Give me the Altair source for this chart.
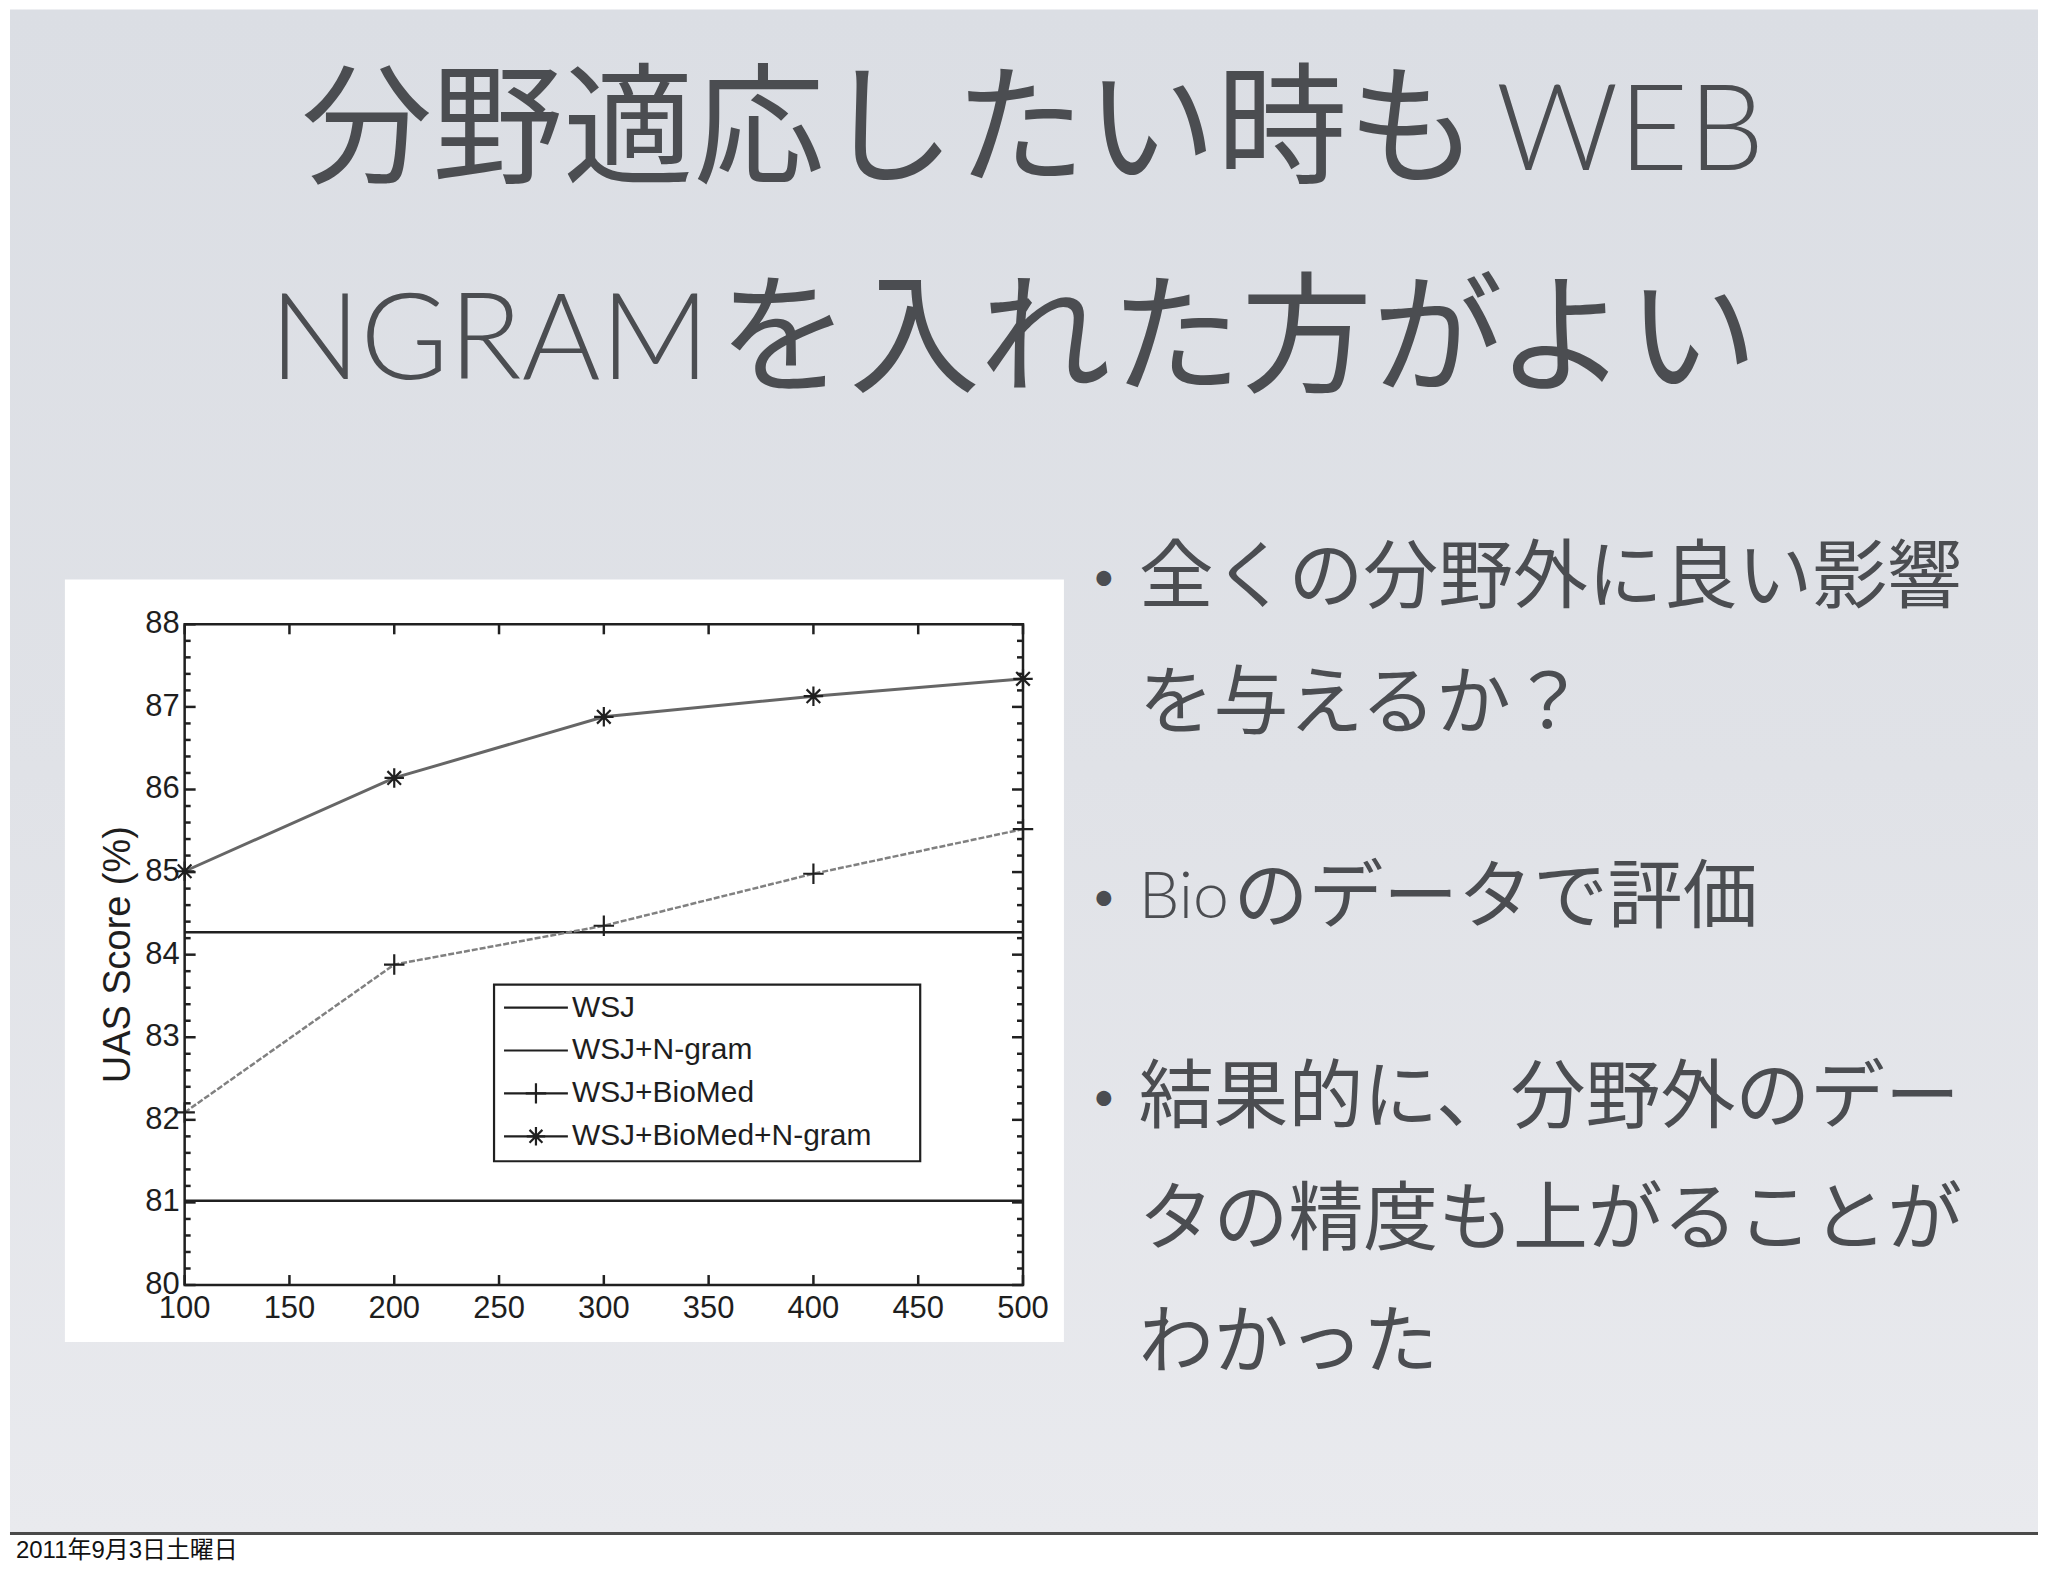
import altair as alt
import numpy as np
import pandas as pd

# ---------------- data ----------------
x_vals = [100, 200, 300, 400, 500]
wsj = [81.02, 81.02, 81.02, 81.02, 81.02]
wsj_ngram = [84.27, 84.27, 84.27, 84.27, 84.27]
wsj_biomed = [82.09, 83.88, 84.35, 84.98, 85.52]
wsj_biomed_ngram = [85.01, 86.14, 86.88, 87.13, 87.34]
series_names = ["WSJ", "WSJ+N-gram", "WSJ+BioMed", "WSJ+BioMed+N-gram"]

x_ticks = [100, 150, 200, 250, 300, 350, 400, 450, 500]
y_ticks = [80, 81, 82, 83, 84, 85, 86, 87, 88]
y_minor = [round(v, 1) for v in np.arange(80.2, 88.0, 0.2) if abs(v - round(v)) > 1e-6]

y_title = "UAS Score (%)"
# title lines, split into (text, is_latin) runs
title_runs = [
    [("分野適応したい時も", False), ("WEB", True)],
    [("NGRAM", True), ("を入れた方がよい", False)],
]
bullet_runs = [
    ("•", [("全くの分野外に良い影響", False)]),
    ("", [("を与えるか？", False)]),
    ("•", [("Bio", True), ("のデータで評価", False)]),
    ("•", [("結果的に、分野外のデー", False)]),
    ("", [("タの精度も上がることが", False)]),
    ("", [("わかった", False)]),
]
date_text = "2011年9月3日土曜日"

# ---------------- layout ----------------
W, H = 840, 662           # plot area
PX0, PY0 = 183, 624       # page position of plot origin


def px(x):
    return x - PX0


def py(y):
    return y - PY0


# left x (page px) of each run, and line centres
title_run_x = [[300, 1497], [268, 718]]
title_y = [133, 342]
bullet_run_x = [[1139], [1139], [1139, 1234], [1139], [1139], [1139]]
bullet_y = [579, 705, 899, 1100, 1222, 1345]

xs = alt.Scale(domain=[100, 500], nice=False, zero=False)
ys = alt.Scale(domain=[80, 88], nice=False, zero=False)

INK = "#1e1e1e"
SLIDE_TXT = "#4b4d51"
CJK_FONT = "'Noto Sans CJK JP'"
LATIN_FONT = "Lato"
PLOT_FONT = "'Liberation Sans', Arial, sans-serif"

one = alt.Data(values=[{}])

layers = []

# slide background
layers.append(
    alt.Chart(one).mark_rect(
        fill={
            "gradient": "linear",
            "x1": 0, "y1": 0, "x2": 0, "y2": 1,
            "stops": [
                {"offset": 0, "color": "#dbdee4"},
                {"offset": 0.5, "color": "#e0e2e7"},
                {"offset": 1, "color": "#e9eaee"},
            ],
        }
    ).encode(x=alt.value(px(8)), x2=alt.value(px(2040)), y=alt.value(py(8)), y2=alt.value(py(1536)))
)
# slide bottom edge
layers.append(
    alt.Chart(one).mark_rule(color="#4a4a4a", strokeWidth=3).encode(
        x=alt.value(px(8)), x2=alt.value(px(2040)), y=alt.value(py(1535))
    )
)
# white figure panel
layers.append(
    alt.Chart(one).mark_rect(fill="#ffffff").encode(
        x=alt.value(px(63)), x2=alt.value(px(1064)), y=alt.value(py(579)), y2=alt.value(py(1343))
    )
)


def series_layer(vals, color, width, dash=None):
    d = pd.DataFrame({"x": x_vals, "y": vals})
    kw = dict(color=color, strokeWidth=width)
    if dash:
        kw["strokeDash"] = dash
    return alt.Chart(d).mark_line(**kw).encode(
        x=alt.X("x:Q", scale=xs, axis=None),
        y=alt.Y("y:Q", scale=ys, axis=None),
    )


layers.append(series_layer(wsj, "#202020", 2.5))
layers.append(series_layer(wsj_ngram, "#202020", 2.5))
layers.append(series_layer(wsj_biomed, "#808080", 2.5, dash=[6, 2]))
layers.append(series_layer(wsj_biomed_ngram, "#666666", 3))

PLUS = "M-1,0L1,0M0,-1L0,1"
STAR = "M-1,0L1,0M0,-1L0,1M-0.7,-0.7L0.7,0.7M-0.7,0.7L0.7,-0.7"


def marker_layer(vals, shape, size):
    d = pd.DataFrame({"x": x_vals, "y": vals})
    return alt.Chart(d).mark_point(shape=shape, size=size, filled=False, stroke="#202020",
                                   strokeWidth=2.2, opacity=1).encode(
        x=alt.X("x:Q", scale=xs, axis=None),
        y=alt.Y("y:Q", scale=ys, axis=None),
    )


layers.append(marker_layer(wsj_biomed, PLUS, 420))
layers.append(marker_layer(wsj_biomed_ngram, STAR, 380))

# plot frame
layers.append(
    alt.Chart(one).mark_rect(fillOpacity=0, stroke="#202020", strokeWidth=2.5).encode(
        x=alt.value(0), x2=alt.value(W), y=alt.value(0), y2=alt.value(H)
    )
)

# inward ticks on all four sides
xt = pd.DataFrame({"v": x_ticks})
for y0, y1 in [(H, H - 10), (0, 10)]:
    layers.append(
        alt.Chart(xt).mark_rule(color="#202020", strokeWidth=2.5).encode(
            x=alt.X("v:Q", scale=xs, axis=None), y=alt.value(y0), y2=alt.value(y1)
        )
    )
for vals, ln in [(y_ticks, 11), (y_minor, 6)]:
    yt = pd.DataFrame({"v": vals})
    for x0, x1 in [(0, ln), (W - ln, W)]:
        layers.append(
            alt.Chart(yt).mark_rule(color="#202020", strokeWidth=2.5).encode(
                y=alt.Y("v:Q", scale=ys, axis=None), x=alt.value(x0), x2=alt.value(x1)
            )
        )

# tick labels
layers.append(
    alt.Chart(xt).mark_text(fontSize=31, font=PLOT_FONT, color=INK, align="center",
                            baseline="top").encode(
        x=alt.X("v:Q", scale=xs, axis=None), y=alt.value(H + 9), text=alt.Text("v:Q", format="d")
    )
)
layers.append(
    alt.Chart(pd.DataFrame({"v": y_ticks})).mark_text(fontSize=31, font=PLOT_FONT, color=INK,
                                                      align="right", baseline="middle").encode(
        y=alt.Y("v:Q", scale=ys, axis=None), x=alt.value(-5), text=alt.Text("v:Q", format="d")
    )
)

# y-axis title
layers.append(
    alt.Chart(one).mark_text(text=y_title, angle=270, fontSize=38, font=PLOT_FONT, color=INK,
                             align="center", baseline="middle").encode(
        x=alt.value(px(117)), y=alt.value(H / 2)
    )
)

# legend
LEG_L, LEG_R, LEG_T, LEG_B = px(493), px(920), py(985), py(1162)
leg_y0, leg_dy = py(1008), 43
legend_df = pd.DataFrame({"name": series_names,
                          "ly": [leg_y0 + i * leg_dy for i in range(len(series_names))]})
layers.append(
    alt.Chart(one).mark_rect(fill="#ffffff", stroke="#202020", strokeWidth=2.2).encode(
        x=alt.value(LEG_L), x2=alt.value(LEG_R), y=alt.value(LEG_T), y2=alt.value(LEG_B)
    )
)
layers.append(
    alt.Chart(legend_df).mark_rule(color="#202020", strokeWidth=2.2).encode(
        x=alt.value(px(503)), x2=alt.value(px(567)), y=alt.Y("ly:Q", scale=None, axis=None)
    )
)
layers.append(
    alt.Chart(legend_df).mark_text(align="left", baseline="middle", fontSize=30, font=PLOT_FONT,
                                   color=INK).encode(
        x=alt.value(px(571)), y=alt.Y("ly:Q", scale=None, axis=None), text="name:N"
    )
)
for i, shape, size in [(2, PLUS, 420), (3, STAR, 340)]:
    layers.append(
        alt.Chart(one).mark_point(shape=shape, size=size, filled=False, stroke="#202020",
                                  strokeWidth=2.2, opacity=1).encode(
            x=alt.value(px(535)), y=alt.value(leg_y0 + i * leg_dy)
        )
    )


def run_layer(text, is_latin, x, y, size, latin_scale):
    return alt.Chart(one).mark_text(
        text=text,
        fontSize=size * (latin_scale if is_latin else 1.0),
        font=LATIN_FONT if is_latin else CJK_FONT,
        fontWeight=300 if is_latin else 400,
        color=SLIDE_TXT, align="left", baseline="middle",
    ).encode(x=alt.value(px(x)), y=alt.value(py(y)))


# slide title
for runs, xs_run, yc in zip(title_runs, title_run_x, title_y):
    for (text, is_latin), x in zip(runs, xs_run):
        layers.append(run_layer(text, is_latin, x, yc, 131, 0.92))

# bullets
for (dot, runs), xs_run, yc in zip(bullet_runs, bullet_run_x, bullet_y):
    if dot:
        layers.append(
            alt.Chart(one).mark_text(text=dot, fontSize=40, font=LATIN_FONT, color=SLIDE_TXT,
                                     align="center", baseline="middle").encode(
                x=alt.value(px(1104)), y=alt.value(py(yc))
            )
        )
    for (text, is_latin), x in zip(runs, xs_run):
        layers.append(run_layer(text, is_latin, x, yc, 75, 0.86))

# date footer
layers.append(
    alt.Chart(one).mark_text(text=date_text, fontSize=24,
                             font="'Liberation Sans', 'Noto Sans CJK JP'", color="#111111",
                             align="left", baseline="middle").encode(
        x=alt.value(px(14)), y=alt.value(py(1553))
    )
)

chart = alt.layer(*layers).properties(width=W, height=H, padding=0).configure_view(
    strokeWidth=0
)

chart.save("out.html", embed_options={"renderer": "svg", "actions": False})
